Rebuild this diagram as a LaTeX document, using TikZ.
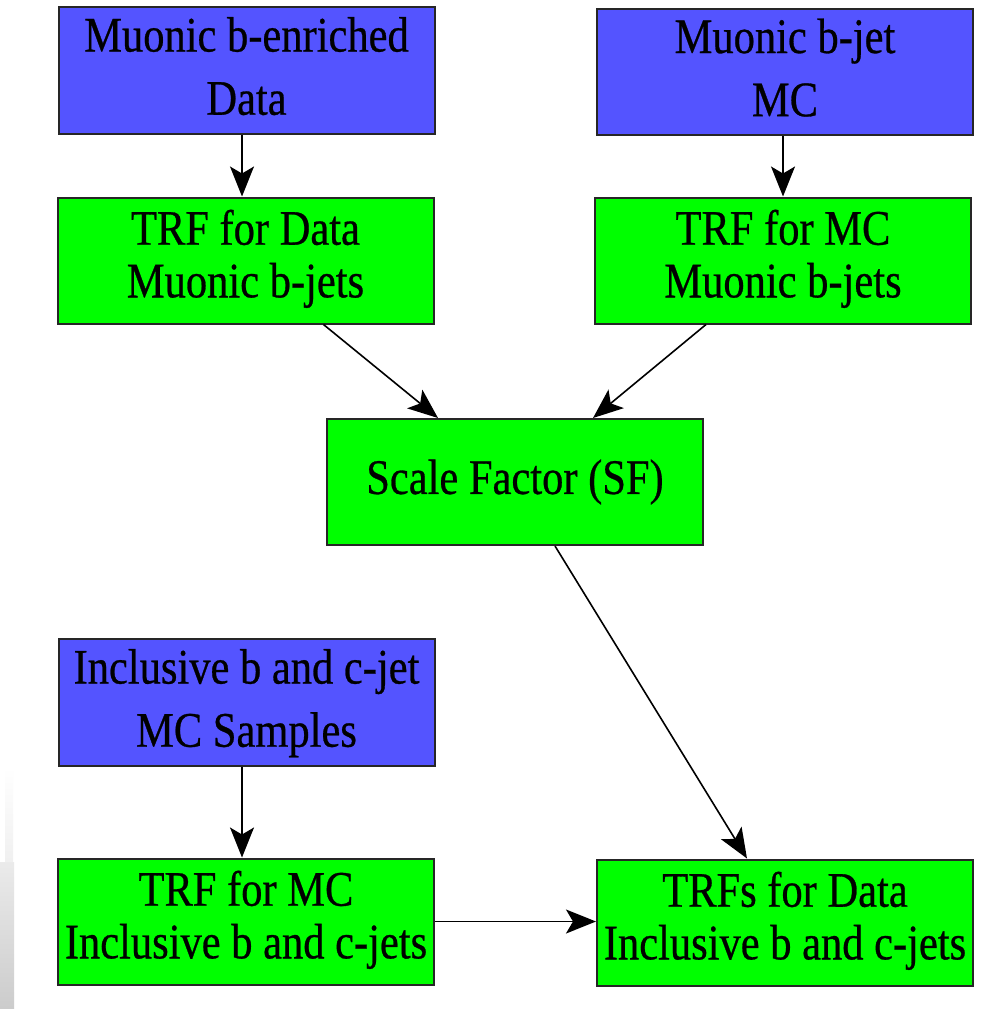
\documentclass[tikz,border=0pt]{standalone}
\usepackage{fontspec}
\setmainfont{Liberation Serif}[FakeBold=0.6]
\usepackage{graphicx}
\usetikzlibrary{arrows.meta,calc}
\definecolor{boxblue}{RGB}{84,84,255}
\definecolor{boxgreen}{RGB}{0,255,0}
\newcommand{\twolines}[2]{\scalebox{1}[1.17]{\begin{tabular}{@{}c@{}}#1\\#2\end{tabular}}}
\newcommand{\oneline}[1]{\scalebox{1}[1.17]{#1}}
\begin{document}
\begin{tikzpicture}[x=1pt,y=-1pt,
  box/.style={draw=black!85,line width=2pt,minimum width=376pt,minimum height=126pt,inner sep=0pt,anchor=center},
  bluebox/.style={box,fill=boxblue,font=\fontsize{42.5}{54}\selectfont},
  greenbox/.style={box,fill=boxgreen,font=\fontsize{42.5}{45}\selectfont},
  arr/.style={line width=1.6pt,-{Stealth[length=30pt,width=24pt,inset=7pt]}}]
\useasboundingbox[fill=white] (0,0) rectangle (997,1012);
% faint grey strip at the left edge
\shade[top color=white,bottom color=black!6] (5,767) rectangle (13,862);
\shade[top color=black!8,bottom color=black!20] (0,862) rectangle (14,1008);
% nodes
\node[bluebox]  (A) at (246.5,70.5) {\twolines{Muonic b-enriched}{Data}};
\node[bluebox]  (B) at (785,72)     {\twolines{Muonic b-jet}{MC}};
\node[greenbox] (C) at (245.5,260.5){\twolines{TRF for Data}{Muonic b-jets}};
\node[greenbox] (D) at (783,260.5)  {\twolines{TRF for MC}{Muonic b-jets}};
\node[greenbox] (E) at (515,482)    {\oneline{Scale Factor (SF)}};
\node[bluebox]  (F) at (246.5,702.5){\twolines{Inclusive b and c-jet}{MC Samples}};
\node[greenbox] (G) at (246,921.5)  {\twolines{TRF for MC}{Inclusive b and c-jets}};
\node[greenbox] (H) at (785,922.5)  {\twolines{TRFs for Data}{Inclusive b and c-jets}};
% connectors
\draw[arr] ([xshift=-4.5pt]A.south) -- ([xshift=-3.5pt]C.north);
\draw[arr] ([xshift=-2pt]B.south) -- (D.north);
\draw[arr] ([xshift=78pt]C.south) -- ([xshift=-77pt]E.north);
\draw[arr] ([xshift=-77pt]D.south) -- ([xshift=78pt]E.north);
\draw[arr] ([xshift=40pt]E.south) -- ([xshift=-38pt]H.north);
\draw[arr] ([xshift=-4.5pt]F.south) -- ([xshift=-4pt]G.north);
\draw[arr] (G.east) -- (G.east -| H.west);
\end{tikzpicture}
\end{document}
